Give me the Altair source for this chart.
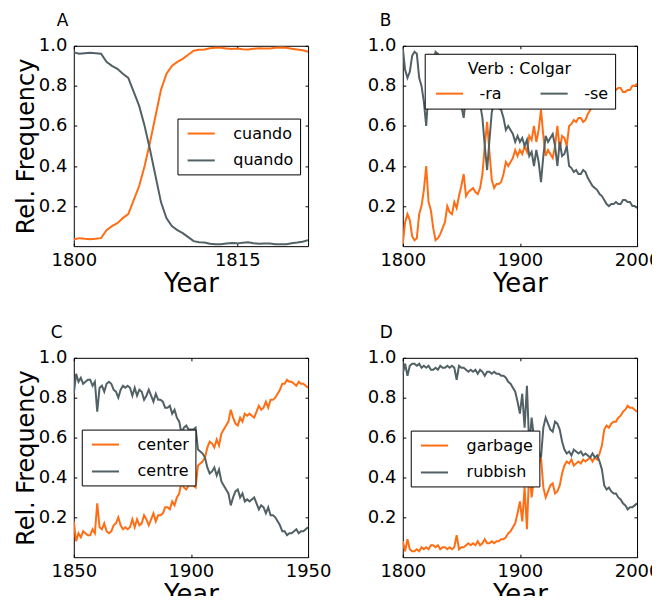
import altair as alt
import pandas as pd

ORANGE = "#ff6e14"
GRAY = "#526166"
FONT = "DejaVu Sans"

# ---------------- Panel A: cuando / quando (half-year steps) ----------------
years_a = [1800 + 0.5 * i for i in range(44)]
cuando = [0.033, 0.040, 0.037, 0.035, 0.037, 0.040, 0.080, 0.100, 0.115, 0.140,
          0.160, 0.230, 0.300, 0.400, 0.520, 0.650, 0.780, 0.860, 0.900, 0.920,
          0.935, 0.955, 0.975, 0.980, 0.982, 0.988, 0.990, 0.990, 0.987, 0.984,
          0.986, 0.983, 0.981, 0.985, 0.988, 0.987, 0.987, 0.990, 0.991, 0.990,
          0.985, 0.982, 0.978, 0.970]
quando = [0.967, 0.960, 0.963, 0.965, 0.963, 0.960, 0.920, 0.900, 0.885, 0.860,
          0.840, 0.770, 0.700, 0.600, 0.480, 0.350, 0.220, 0.140, 0.100, 0.080,
          0.065, 0.045, 0.025, 0.020, 0.018, 0.012, 0.010, 0.010, 0.013, 0.016,
          0.014, 0.017, 0.019, 0.015, 0.012, 0.013, 0.013, 0.010, 0.009, 0.010,
          0.015, 0.018, 0.022, 0.030]

# ---------------- Panel B: -ra / -se (Colgar) ----------------
years_b = list(range(1800, 2001, 2))
ra = [0.01, 0.12, 0.16, 0.13, 0.05, 0.03, 0.04, 0.16, 0.20, 0.28,
      0.40, 0.22, 0.18, 0.09, 0.03, 0.04, 0.06, 0.09, 0.12, 0.20,
      0.17, 0.16, 0.22, 0.19, 0.25, 0.30, 0.36, 0.25, 0.27, 0.28,
      0.29, 0.27, 0.26, 0.29, 0.36, 0.50, 0.62, 0.47, 0.33, 0.29,
      0.31, 0.31, 0.32, 0.36, 0.42, 0.40, 0.42, 0.44, 0.48, 0.45,
      0.48, 0.46, 0.50, 0.47, 0.55, 0.53, 0.60, 0.52, 0.58, 0.68,
      0.55, 0.45, 0.48, 0.46, 0.44, 0.50, 0.60, 0.48, 0.55, 0.54,
      0.50, 0.60, 0.61, 0.63, 0.62, 0.64, 0.64, 0.62, 0.63, 0.66,
      0.68, 0.70, 0.71, 0.72, 0.74, 0.75, 0.77, 0.79, 0.80, 0.79,
      0.79, 0.78, 0.79, 0.79, 0.77, 0.77, 0.78, 0.78, 0.80, 0.80,
      0.81]
se = [0.99, 0.88, 0.84, 0.87, 0.95, 0.97, 0.96, 0.84, 0.80, 0.72,
      0.60, 0.78, 0.82, 0.91, 0.97, 0.96, 0.94, 0.91, 0.88, 0.80,
      0.83, 0.84, 0.78, 0.81, 0.75, 0.70, 0.64, 0.75, 0.73, 0.72,
      0.71, 0.73, 0.74, 0.71, 0.64, 0.50, 0.38, 0.53, 0.67, 0.71,
      0.69, 0.69, 0.68, 0.64, 0.58, 0.60, 0.58, 0.56, 0.52, 0.55,
      0.52, 0.54, 0.50, 0.53, 0.45, 0.47, 0.40, 0.48, 0.42, 0.32,
      0.45, 0.55, 0.52, 0.54, 0.56, 0.50, 0.40, 0.52, 0.45, 0.46,
      0.50, 0.40, 0.39, 0.37, 0.38, 0.36, 0.36, 0.38, 0.37, 0.34,
      0.32, 0.30, 0.29, 0.28, 0.26, 0.25, 0.23, 0.21, 0.20, 0.21,
      0.21, 0.22, 0.21, 0.21, 0.23, 0.23, 0.22, 0.22, 0.20, 0.20,
      0.19]

# ---------------- Panel C: center / centre ----------------
years_c = list(range(1850, 1951))
center = [0.18, 0.08, 0.12, 0.10, 0.13, 0.12, 0.11, 0.11, 0.14, 0.12,
          0.27, 0.15, 0.14, 0.17, 0.13, 0.12, 0.13, 0.16, 0.17, 0.20,
          0.16, 0.14, 0.15, 0.14, 0.15, 0.19, 0.15, 0.19, 0.16, 0.17,
          0.21, 0.19, 0.16, 0.19, 0.22, 0.18, 0.21, 0.21, 0.22, 0.25,
          0.25, 0.24, 0.28, 0.26, 0.30, 0.32, 0.38, 0.35, 0.34, 0.36,
          0.36, 0.36, 0.35, 0.46, 0.47, 0.48, 0.50, 0.55, 0.58, 0.57,
          0.55, 0.59, 0.56, 0.62, 0.64, 0.66, 0.68, 0.74, 0.70, 0.67,
          0.66, 0.70, 0.68, 0.72, 0.71, 0.72, 0.71, 0.70, 0.73, 0.76,
          0.74, 0.75, 0.78, 0.75, 0.79, 0.79, 0.80, 0.82, 0.84, 0.87,
          0.87, 0.89, 0.88, 0.88, 0.87, 0.86, 0.88, 0.87, 0.87, 0.86,
          0.85]
centre = [0.82, 0.92, 0.88, 0.90, 0.87, 0.88, 0.89, 0.89, 0.86, 0.88,
          0.73, 0.85, 0.86, 0.83, 0.87, 0.88, 0.87, 0.84, 0.83, 0.80,
          0.84, 0.86, 0.85, 0.86, 0.85, 0.81, 0.85, 0.81, 0.84, 0.83,
          0.79, 0.81, 0.84, 0.81, 0.78, 0.82, 0.79, 0.79, 0.78, 0.75,
          0.75, 0.76, 0.72, 0.74, 0.70, 0.68, 0.62, 0.65, 0.66, 0.64,
          0.64, 0.64, 0.65, 0.54, 0.53, 0.52, 0.50, 0.45, 0.42, 0.43,
          0.45, 0.41, 0.44, 0.38, 0.36, 0.34, 0.32, 0.26, 0.30, 0.33,
          0.34, 0.30, 0.32, 0.28, 0.29, 0.28, 0.29, 0.30, 0.27, 0.24,
          0.26, 0.25, 0.22, 0.25, 0.21, 0.21, 0.20, 0.18, 0.16, 0.13,
          0.13, 0.11, 0.12, 0.12, 0.13, 0.14, 0.12, 0.13, 0.13, 0.14,
          0.15]

# ---------------- Panel D: garbage / rubbish ----------------
years_d = list(range(1800, 2001, 2))
garbage = [0.08, 0.03, 0.09, 0.04, 0.03, 0.03, 0.04, 0.03, 0.05, 0.04,
           0.05, 0.04, 0.06, 0.06, 0.05, 0.06, 0.04, 0.05, 0.05, 0.04,
           0.05, 0.04, 0.05, 0.11, 0.04, 0.05, 0.05, 0.06, 0.07, 0.06,
           0.07, 0.06, 0.08, 0.06, 0.07, 0.09, 0.07, 0.07, 0.08, 0.07,
           0.08, 0.08, 0.09, 0.09, 0.10, 0.12, 0.13, 0.15, 0.17, 0.22,
           0.28, 0.18, 0.35, 0.14, 0.45, 0.30, 0.40, 0.50, 0.47, 0.50,
           0.35, 0.30, 0.33, 0.36, 0.37, 0.32, 0.33, 0.36, 0.42, 0.46,
           0.48, 0.47, 0.49, 0.46, 0.47, 0.48, 0.47, 0.49, 0.48, 0.49,
           0.50, 0.48, 0.50, 0.49, 0.52, 0.56, 0.64, 0.66, 0.65, 0.67,
           0.68, 0.68, 0.70, 0.71, 0.73, 0.74, 0.76, 0.75, 0.75, 0.74,
           0.73]
rubbish = [0.92, 0.97, 0.91, 0.96, 0.97, 0.97, 0.96, 0.97, 0.95, 0.96,
           0.95, 0.96, 0.94, 0.94, 0.95, 0.94, 0.96, 0.95, 0.95, 0.96,
           0.95, 0.96, 0.95, 0.89, 0.96, 0.95, 0.95, 0.94, 0.93, 0.94,
           0.93, 0.94, 0.92, 0.94, 0.93, 0.91, 0.93, 0.93, 0.92, 0.93,
           0.92, 0.92, 0.91, 0.91, 0.90, 0.88, 0.87, 0.85, 0.83, 0.78,
           0.72, 0.82, 0.65, 0.86, 0.55, 0.70, 0.60, 0.50, 0.53, 0.50,
           0.65, 0.70, 0.67, 0.64, 0.63, 0.68, 0.67, 0.64, 0.58, 0.54,
           0.52, 0.53, 0.51, 0.54, 0.53, 0.52, 0.53, 0.51, 0.52, 0.51,
           0.50, 0.52, 0.50, 0.51, 0.48, 0.44, 0.36, 0.34, 0.35, 0.33,
           0.32, 0.32, 0.30, 0.29, 0.27, 0.26, 0.24, 0.25, 0.25, 0.26,
           0.27]

Y_TICKS = [0.2, 0.4, 0.6, 0.8, 1.0]

# legend line symbol: a 27px horizontal stroke, drawn a little right of its slot
LEG_LINE = "M-0.6,0L2.8,0"


def make_df(years, n1, v1, n2, v2):
    rows = [{"year": y, "value": v, "series": n1} for y, v in zip(years, v1)]
    rows += [{"year": y, "value": v, "series": n2} for y, v in zip(years, v2)]
    return pd.DataFrame(rows)


def panel(df, names, letter, dx, xdom, xvals, legend, ytitle, h):
    xscale = alt.Scale(domain=xdom, nice=False, zero=False)
    yscale = alt.Scale(domain=[0, 1], nice=False, zero=False)
    common = dict(domain=False, grid=False, tickSize=3, offset=-3,
                  tickColor="black", tickWidth=1)
    x_bottom = alt.Axis(orient="bottom", values=xvals, format="d", title="Year",
                        labelFontSize=18, titleFontSize=26, titleFontWeight="normal",
                        labelPadding=5, titlePadding=1, labelFlush=False,
                        labelOverlap=False, labelColor="black", titleColor="black",
                        **common)
    yargs = dict(orient="left", values=Y_TICKS, format=".1f",
                 labelFontSize=18, labelPadding=7, labelColor="black",
                 labelOverlap=False, labelFlush=False, **common)
    if ytitle:
        y_left = alt.Axis(title="Rel. Frequency", titleFontSize=24,
                          titleFontWeight="normal", titlePadding=0,
                          titleColor="black", **yargs)
    else:
        y_left = alt.Axis(title=None, **yargs)
    x_top = alt.Axis(orient="top", values=xvals, labels=False, title=None, **common)
    y_right = alt.Axis(orient="right", values=Y_TICKS, labels=False, title=None, **common)

    main = alt.Chart(df).mark_line(strokeWidth=2, clip=True).encode(
        x=alt.X("year:Q", scale=xscale, axis=x_bottom),
        y=alt.Y("value:Q", scale=yscale, axis=y_left),
        color=alt.Color("series:N",
                        scale=alt.Scale(domain=names, range=[ORANGE, GRAY]),
                        legend=legend),
    )
    frame = alt.Chart(df).mark_point(opacity=0, size=1).encode(
        x=alt.X("year:Q", scale=xscale, axis=x_top),
        y=alt.Y("value:Q", scale=yscale, axis=y_right),
    )
    return alt.layer(main, frame).resolve_axis(
        x="independent", y="independent"
    ).properties(
        width=235, height=h,
        title=alt.TitleParams(letter, anchor="start", frame="group", dx=dx,
                              fontSize=17, fontWeight="normal", offset=7,
                              color="black"),
    )


def simple_legend(x, y):
    return alt.Legend(orient="none", legendX=x, legendY=y, title=None,
                      direction="vertical", strokeColor="black", fillColor="white",
                      padding=6, labelFontSize=16, labelColor="black",
                      symbolType=LEG_LINE, symbolSize=256, symbolStrokeWidth=2,
                      labelOffset=32, rowPadding=10, cornerRadius=0,
                      symbolOpacity=1)


leg_a = simple_legend(104, 73)
leg_b = alt.Legend(orient="none", legendX=22, legendY=8, title="Verb : Colgar",
                   titleFontSize=16, titleFontWeight="normal", titleAnchor="middle",
                   titleColor="black", titlePadding=8,
                   direction="horizontal", columns=2, columnPadding=34,
                   strokeColor="black", fillColor="white", padding=7,
                   labelFontSize=16, labelColor="black",
                   symbolType=LEG_LINE, symbolSize=256, symbolStrokeWidth=2,
                   labelOffset=30, cornerRadius=0, symbolOpacity=1)
leg_c = simple_legend(8, 72)
leg_d = simple_legend(8, 73)

pa = panel(make_df(years_a, "cuando", cuando, "quando", quando), ["cuando", "quando"],
           "A", -17, [1800, 1821.5], [1800, 1815], leg_a, True, 201)
pb = panel(make_df(years_b, "-ra", ra, "-se", se), ["-ra", "-se"],
           "B", -23, [1800, 2000], [1800, 1900, 2000], leg_b, False, 201)
pc = panel(make_df(years_c, "center", center, "centre", centre), ["center", "centre"],
           "C", -23, [1850, 1950], [1850, 1900, 1950], leg_c, True, 200)
pd_ = panel(make_df(years_d, "garbage", garbage, "rubbish", rubbish), ["garbage", "rubbish"],
            "D", -23, [1800, 2000], [1800, 1900, 2000], leg_d, False, 200)

chart = alt.concat(
    pa, pb, pc, pd_, columns=2, bounds="flush",
    spacing={"row": 112, "column": 95},
).resolve_scale(
    color="independent"
).properties(
    padding={"left": 5, "top": 2, "right": -9, "bottom": -13}
).configure(font=FONT).configure_view(stroke="black", strokeWidth=1)

chart.save("out.html", embed_options={"renderer": "svg", "actions": False})
